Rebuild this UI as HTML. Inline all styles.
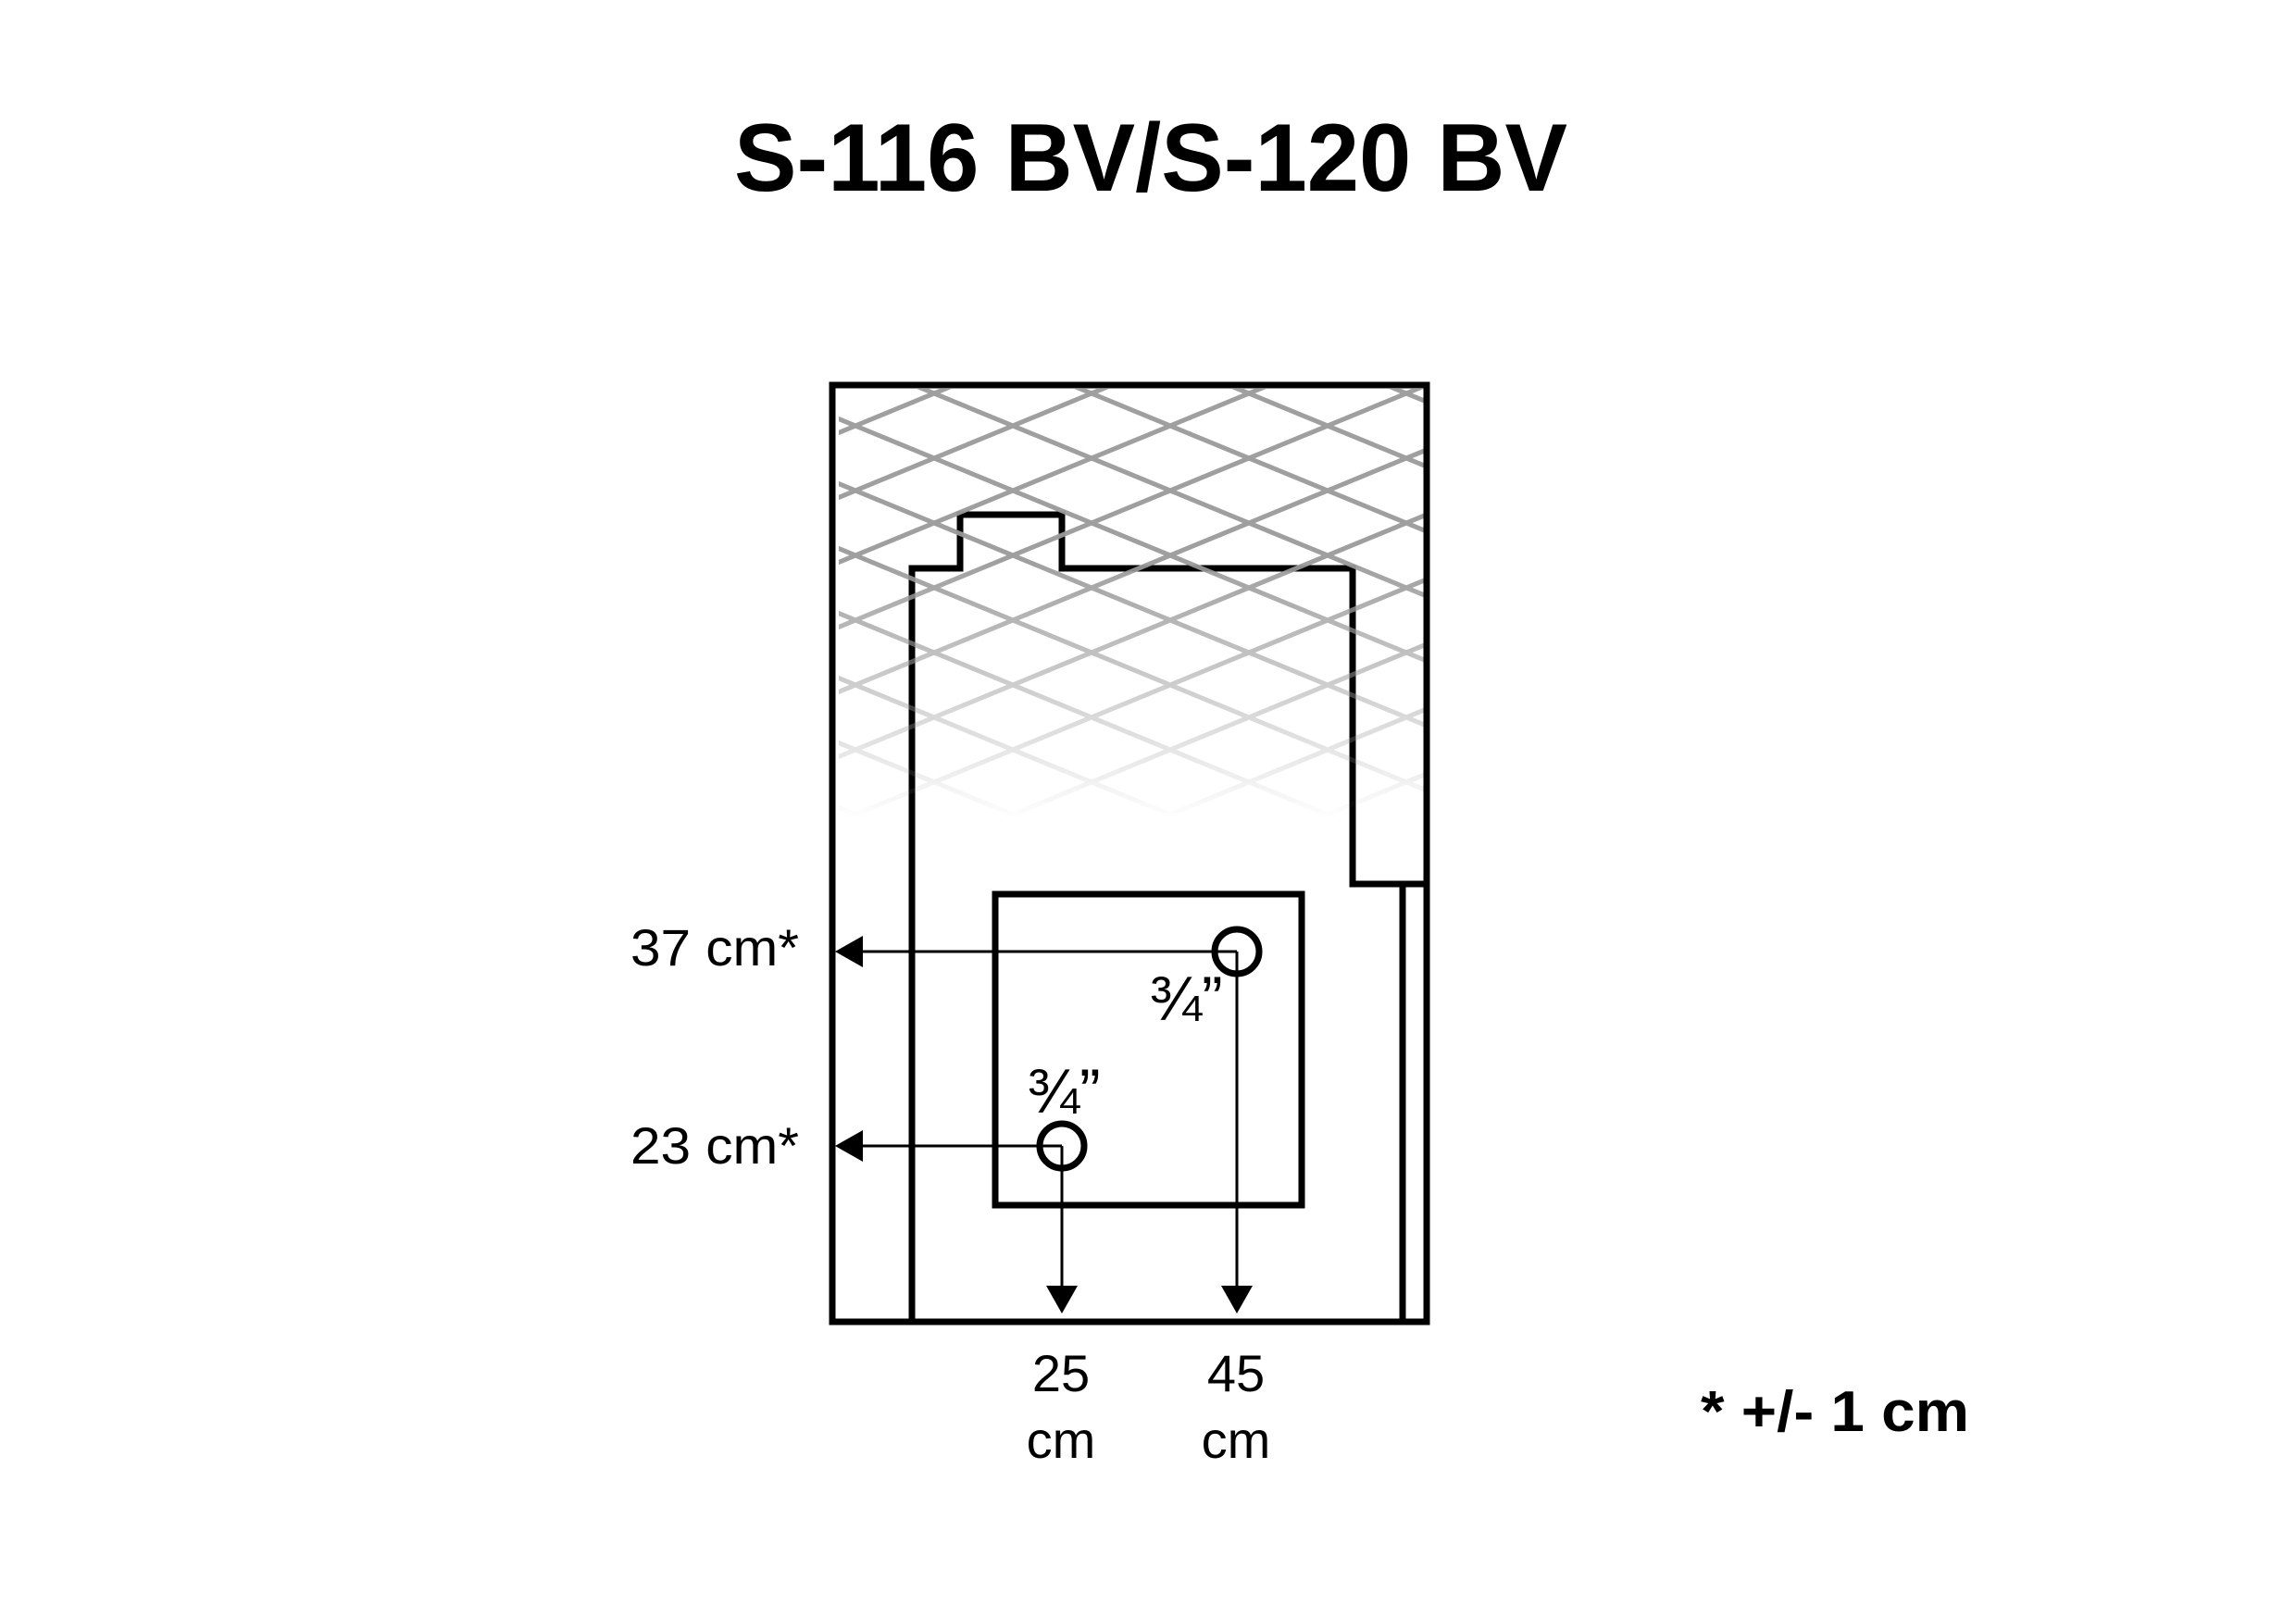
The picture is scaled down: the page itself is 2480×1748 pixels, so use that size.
<!DOCTYPE html>
<html><head><meta charset="utf-8"><style>
html,body{margin:0;padding:0;background:#fff;}
svg{display:block;}
</style></head><body>
<svg width="2480" height="1748" viewBox="0 0 2480 1748" xmlns="http://www.w3.org/2000/svg">
<defs>
<pattern id="hp" patternUnits="userSpaceOnUse" x="924" y="460" width="170" height="70">
<line x1="-85" y1="-35" x2="255" y2="105" stroke="#9a9a9a" stroke-width="5"/>
<line x1="-85" y1="105" x2="255" y2="-35" stroke="#9a9a9a" stroke-width="5"/>
</pattern>
<linearGradient id="mg" gradientUnits="userSpaceOnUse" x1="0" y1="420" x2="0" y2="885">
<stop offset="0" stop-color="#fff"/>
<stop offset="0.4" stop-color="#fff"/>
<stop offset="1" stop-color="#000"/>
</linearGradient>
<mask id="mk"><rect x="0" y="0" width="2480" height="1748" fill="url(#mg)"/></mask>
</defs>
<rect width="2480" height="1748" fill="#fff"/>
<text x="1243" y="206" font-family="Liberation Sans, sans-serif" font-weight="bold" font-size="104" text-anchor="middle" textLength="900" lengthAdjust="spacingAndGlyphs">S-116 BV/S-120 BV</text>

<g fill="none" stroke="#000" stroke-width="7">
<path d="M985 1428 V614 H1037 V556 H1147 V614 H1461 V955 H1541"/>
<line x1="1515" y1="955" x2="1515" y2="1428"/>
<rect x="1075" y="966" width="331" height="336"/>
</g>
<rect x="906" y="420" width="632" height="470" fill="url(#hp)" mask="url(#mk)" opacity="0.95"/>
<rect x="899" y="416" width="642" height="1012" fill="none" stroke="#000" stroke-width="7"/>

<g stroke="#000" stroke-width="3" fill="none">
<line x1="1336" y1="1028" x2="926" y2="1028"/>
<line x1="1147" y1="1238" x2="926" y2="1238"/>
<line x1="1147" y1="1238" x2="1147" y2="1395"/>
<line x1="1336" y1="1028" x2="1336" y2="1395"/>
</g>
<g fill="#000">
<polygon points="902,1028 932,1011 932,1045"/>
<polygon points="902,1238 932,1221 932,1255"/>
<polygon points="1147,1419 1130,1389 1164,1389"/>
<polygon points="1336,1419 1319,1389 1353,1389"/>
</g>
<g fill="none" stroke="#000" stroke-width="7">
<circle cx="1336" cy="1028" r="24"/>
<circle cx="1147" cy="1238" r="24"/>
</g>

<g font-family="Liberation Sans, sans-serif" font-size="56" fill="#000">
<text x="863" y="1043" text-anchor="end" textLength="182" lengthAdjust="spacingAndGlyphs">37 cm*</text>
<text x="863" y="1257" text-anchor="end" textLength="182" lengthAdjust="spacingAndGlyphs">23 cm*</text>
<text x="1146" y="1503" text-anchor="middle">25</text>
<text x="1146" y="1575" text-anchor="middle">cm</text>
<text x="1335" y="1503" text-anchor="middle">45</text>
<text x="1335" y="1575" text-anchor="middle">cm</text>
<text x="1281" y="1102" text-anchor="middle" font-size="68">¾”</text>
<text x="1149" y="1202" text-anchor="middle" font-size="68">¾”</text>
</g>
<text x="1837" y="1546" font-family="Liberation Sans, sans-serif" font-weight="bold" font-size="62" textLength="290" lengthAdjust="spacingAndGlyphs">* +/- 1 cm</text>
</svg>
</body></html>
